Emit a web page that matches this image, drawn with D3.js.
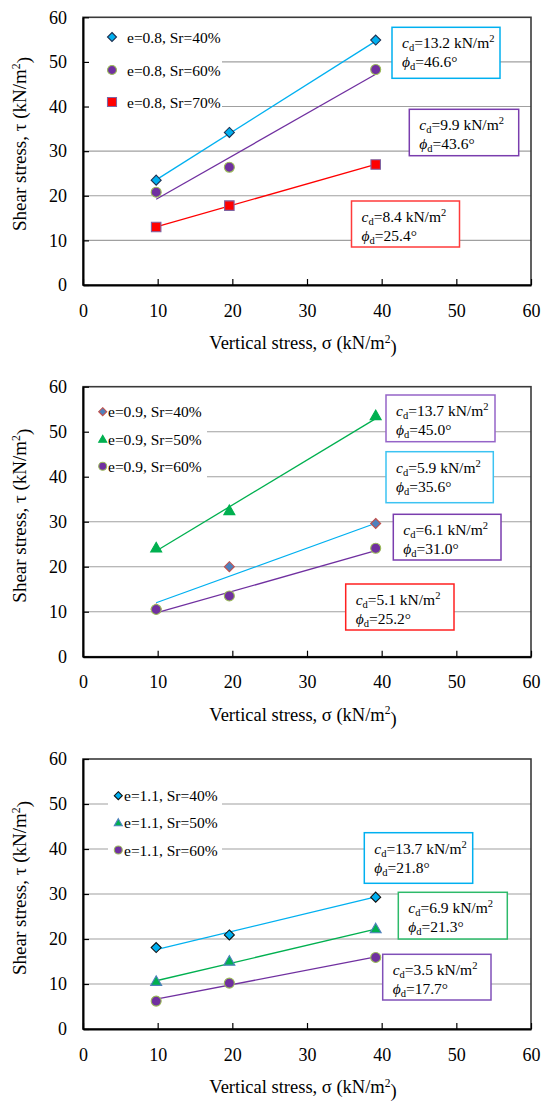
<!DOCTYPE html>
<html>
<head>
<meta charset="utf-8">
<script src="https://cdn.jsdelivr.net/npm/d3@7"></script>
<style>
  html, body { margin: 0; padding: 0; background: #fff; }
  svg { display: block; }
  text { font-family: "Liberation Serif", "Times New Roman", serif; fill: #000; }
</style>
</head>
<body>
<svg id="chart" width="543" height="1102"></svg>
<script>
// Normal stresses applied in the direct shear tests (kN/m2)
const sigma = [9.8, 19.6, 39.2];
const axisTicks = [0, 10, 20, 30, 40, 50, 60];

// e = 0.8
const namesA = ["e=0.8, Sr=40%", "e=0.8, Sr=60%", "e=0.8, Sr=70%"];
const tauA40 = [23.5, 34.2, 54.9];
const tauA60 = [20.8, 26.4, 48.3];
const tauA70 = [13.0, 17.8, 27.0];
const cA = [13.2, 9.9, 8.4];
const phiA = [46.6, 43.6, 25.4];

// e = 0.9
const namesB = ["e=0.9, Sr=40%", "e=0.9, Sr=50%", "e=0.9, Sr=60%"];
const tauB40 = [10.6, 20.0, 29.6];
const tauB50 = [24.2, 32.5, 53.6];
const tauB60 = [10.5, 13.5, 24.1];
const cB = [13.7, 5.9, 6.1, 5.1];
const phiB = [45.0, 35.6, 31.0, 25.2];

// e = 1.1
const namesC = ["e=1.1, Sr=40%", "e=1.1, Sr=50%", "e=1.1, Sr=60%"];
const tauC40 = [18.1, 20.9, 29.3];
const tauC50 = [10.6, 15.1, 22.3];
const tauC60 = [6.2, 10.2, 15.9];
const cC = [13.7, 6.9, 3.5];
const phiC = [21.8, 21.3, 17.7];

const CYAN = "#00B0F0", PURPLE = "#7030A0", RED = "#FF0000", GREEN = "#00B050";

const panels = [
  {
    top: 17.3, bottom: 285,
    series: [
      { name: namesA[0], tau: tauA40, shape: "diamond", fill: CYAN, stroke: "#1F3050", line: CYAN, fit: 0, size: 10 },
      { name: namesA[1], tau: tauA60, shape: "circle", fill: PURPLE, stroke: "#9BBB59", line: PURPLE, fit: 1, size: 10 },
      { name: namesA[2], tau: tauA70, shape: "square", fill: RED, stroke: "#8064A2", line: RED, fit: 2, size: 9.5 }
    ],
    c: cA, phi: phiA,
    legend: { bg: [84, 22, 222, 116], mx: 112, tx: 127, rows: [37, 70, 102], msize: 9 },
    boxes: [
      { x0: 392, y0: 27.3, x1: 500, y1: 78.3, color: CYAN },
      { x0: 409.3, y0: 109.3, x1: 518.7, y1: 155.7, color: "#7A3DAE" },
      { x0: 351.5, y0: 201, x1: 459.5, y1: 247, color: "#FF3B3B" }
    ]
  },
  {
    top: 386.7, bottom: 656.7,
    series: [
      { name: namesB[0], tau: tauB40, shape: "diamond", fill: "#4F81BD", stroke: "#C0504D", line: CYAN, fit: 2, size: 10 },
      { name: namesB[1], tau: tauB50, shape: "triangle", fill: GREEN, stroke: GREEN, line: GREEN, fit: 0, size: 11 },
      { name: namesB[2], tau: tauB60, shape: "circle", fill: PURPLE, stroke: "#9BBB59", line: PURPLE, fit: 3, size: 10 }
    ],
    c: cB, phi: phiB,
    legend: { bg: [84, 395, 207, 481], mx: 102.7, tx: 108, rows: [411.7, 439.3, 466.3], msize: 8 },
    boxes: [
      { x0: 386, y0: 395, x1: 495, y1: 441.7, color: "#9564C8" },
      { x0: 386, y0: 451.7, x1: 493.3, y1: 502.7, color: "#3CC3F2" },
      { x0: 393.3, y0: 514.3, x1: 501, y1: 560, color: "#7A3DAE" },
      { x0: 345.7, y0: 584, x1: 454, y1: 630, color: "#FF2020" }
    ]
  },
  {
    top: 759, bottom: 1029,
    series: [
      { name: namesC[0], tau: tauC40, shape: "diamond", fill: CYAN, stroke: "#101010", line: CYAN, fit: 0, size: 10 },
      { name: namesC[1], tau: tauC50, shape: "triangle", fill: GREEN, stroke: "#4F81BD", line: GREEN, fit: 1, size: 11 },
      { name: namesC[2], tau: tauC60, shape: "circle", fill: PURPLE, stroke: "#9BBB59", line: PURPLE, fit: 2, size: 10 }
    ],
    c: cC, phi: phiC,
    legend: { bg: [108, 785, 222, 862], mx: 118.3, tx: 124, rows: [795.7, 822.7, 850], msize: 8 },
    boxes: [
      { x0: 364.3, y0: 832.7, x1: 472.7, y1: 883.3, color: CYAN },
      { x0: 398.3, y0: 892.3, x1: 507.3, y1: 939, color: "#2DBA6A" },
      { x0: 382.7, y0: 954.3, x1: 491, y1: 1000, color: "#8050B8" }
    ]
  }
];

const svg = d3.select("#chart");
svg.append("rect").attr("width", 543).attr("height", 1102).attr("fill", "#fff");

const x = d3.scaleLinear().domain([0, 60]).range([83, 531]);

function markerPath(shape, s) {
  const h = s / 2;
  if (shape === "diamond") return `M0,${-h}L${h},0L0,${h}L${-h},0Z`;
  if (shape === "square") return `M${-h},${-h}H${h}V${h}H${-h}Z`;
  if (shape === "triangle") return `M0,${-h}L${h},${h * 0.75}L${-h},${h * 0.75}Z`;
  return d3.arc()({ innerRadius: 0, outerRadius: h, startAngle: 0, endAngle: 2 * Math.PI });
}

function drawMarker(g, s, cx, cy, size) {
  g.append("path")
    .attr("d", markerPath(s.shape, size))
    .attr("transform", `translate(${cx},${cy})`)
    .attr("fill", s.fill)
    .attr("stroke", s.stroke)
    .attr("stroke-width", 1.1);
}

function unitText(sel, prefix, sym, after) {
  // label ending in a unit with a superscript power, e.g. kN/m²
  sel.append("tspan").text(prefix);
  sel.append("tspan").attr("font-size", "0.62em").attr("dy", "-0.55em").text(sym);
  sel.append("tspan").attr("dy", "0.55em").text(after);
}

panels.forEach((p) => {
  const y = d3.scaleLinear().domain([0, 60]).range([p.bottom, p.top]);
  const g = svg.append("g");

  // gridlines
  g.append("g").selectAll("line").data(axisTicks.filter(t => t > 0 && t < 60)).join("line")
    .attr("x1", x(0)).attr("x2", x(60))
    .attr("y1", d => y(d)).attr("y2", d => y(d))
    .attr("stroke", "#A0A0A0").attr("stroke-width", 1.1);

  // plot frame
  g.append("rect")
    .attr("x", x(0)).attr("y", y(60))
    .attr("width", x(60) - x(0)).attr("height", y(0) - y(60))
    .attr("fill", "none").attr("stroke", "#3a3a3a").attr("stroke-width", 1.6);

  // legend background hides gridlines behind the entries
  const L = p.legend;
  g.append("rect").attr("x", L.bg[0]).attr("y", L.bg[1])
    .attr("width", L.bg[2] - L.bg[0]).attr("height", L.bg[3] - L.bg[1])
    .attr("fill", "#fff");

  // axes with inward ticks
  const xAxis = d3.axisBottom(x).tickValues(axisTicks).tickSizeInner(-6).tickSizeOuter(0).tickPadding(19);
  const yAxis = d3.axisLeft(y).tickValues(axisTicks).tickSizeInner(-6).tickSizeOuter(0).tickPadding(16);
  const gx = g.append("g").attr("transform", `translate(0,${y(0)})`).call(xAxis);
  const gy = g.append("g").attr("transform", `translate(${x(0)},0)`).call(yAxis);
  [gx, gy].forEach(a => {
    a.attr("font-family", "Liberation Serif");
    a.select(".domain").attr("stroke", "#000").attr("stroke-width", 2);
    a.selectAll(".tick line").attr("stroke", "#000").attr("stroke-width", 1.2);
    a.selectAll(".tick text").attr("font-size", 18).attr("fill", "#000");
  });
  gx.selectAll(".tick text").attr("y", 19);

  // axis titles
  const xt = g.append("text").attr("x", 303).attr("y", y(0) + 64)
    .attr("text-anchor", "middle").attr("font-size", 18.5);
  unitText(xt, "Vertical stress, σ (kN/m", "2", ")");

  const yt = g.append("text")
    .attr("transform", `translate(26,${y(0) - 141}) rotate(-90)`)
    .attr("text-anchor", "middle").attr("font-size", 19);
  unitText(yt, "Shear stress, τ (kN/m", "2", ")");

  // failure envelopes  τ = c + σ·tanφ
  const line = d3.line().x(d => x(d[0])).y(d => y(d[1]));
  p.series.forEach(s => {
    const c = p.c[s.fit], t = Math.tan(p.phi[s.fit] * Math.PI / 180);
    const ends = [sigma[0], sigma[sigma.length - 1]].map(v => [v, c + v * t]);
    g.append("path").attr("d", line(ends)).attr("fill", "none")
      .attr("stroke", s.line).attr("stroke-width", 1.3);
  });

  // measured points
  p.series.forEach(s => {
    const mg = g.append("g");
    sigma.forEach((v, i) => drawMarker(mg, s, x(v), y(s.tau[i]), s.size));
  });

  // legend entries
  p.series.forEach((s, i) => {
    drawMarker(g, s, L.mx, L.rows[i], L.msize);
    g.append("text").attr("x", L.tx).attr("y", L.rows[i] + 5.5)
      .attr("font-size", 15.5).text(s.name);
  });

  // strength parameter boxes
  p.boxes.forEach((b, i) => {
    g.append("rect").attr("x", b.x0).attr("y", b.y0)
      .attr("width", b.x1 - b.x0).attr("height", b.y1 - b.y0)
      .attr("fill", "#fff").attr("stroke", b.color).attr("stroke-width", 1.5);
    const tx = b.x0 + 10;
    const t1 = g.append("text").attr("x", tx).attr("y", b.y0 + 21).attr("font-size", 15.5);
    t1.append("tspan").attr("font-style", "italic").text("c");
    t1.append("tspan").attr("font-size", 10.5).attr("dy", 3).text("d");
    t1.append("tspan").attr("dy", -3).text(`=${p.c[i].toFixed(1)} kN/m`);
    t1.append("tspan").attr("font-size", 10.5).attr("dy", -6).text("2");
    const t2 = g.append("text").attr("x", tx).attr("y", b.y0 + 40).attr("font-size", 15.5);
    t2.append("tspan").attr("font-style", "italic").text("ϕ");
    t2.append("tspan").attr("font-size", 10.5).attr("dy", 3).text("d");
    t2.append("tspan").attr("dy", -3).text(`=${p.phi[i].toFixed(1)}°`);
  });
});
</script>
</body>
</html>
